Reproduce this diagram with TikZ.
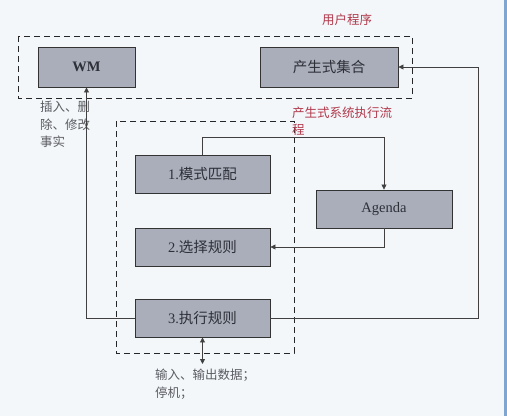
\documentclass[tikz,border=0pt]{standalone}
\usepackage{fontspec}
\setmainfont{Liberation Serif}
\newfontfamily\cjk{Noto Sans CJK SC}
\usetikzlibrary{arrows.meta}
\definecolor{bg}{HTML}{F4F7FA}
\definecolor{boxfill}{HTML}{A9AEBA}
\definecolor{redtxt}{HTML}{B0384A}
\definecolor{txt}{HTML}{2E3038}
\definecolor{gtxt}{HTML}{5A5C62}
\definecolor{edge}{HTML}{7FA6D0}
\tikzset{
  blk/.style={draw=black!80, line width=0.9pt, fill=boxfill, text=txt, font=\fontsize{14.5}{16}\selectfont},
  dashbox/.style={draw=black!85, line width=0.9pt, dash pattern=on 6pt off 4pt},
  conn/.style={draw=black!75, line width=0.8pt},
  arr/.style={conn, -{Triangle[length=5pt,width=5pt]}},
  redlbl/.style={text=redtxt, font=\cjk\fontsize{12.5}{17}\selectfont},
  grylbl/.style={text=gtxt, font=\cjk\fontsize{12.5}{17.5}\selectfont, align=left, inner sep=0pt},
}
\begin{document}
\begin{tikzpicture}[x=1pt,y=-1pt]
\fill[bg] (0,0) rectangle (507,416);
\fill[edge] (504,0) rectangle (507,416);
\useasboundingbox (0,0) rectangle (507,416);
% dashed containers
\draw[dashbox] (18,36) rectangle (412,98);
\draw[dashbox] (116,121) rectangle (294,353);
% nodes
\node[blk, minimum width=97pt, minimum height=40pt] (wm) at (86.5,67) {\bfseries WM};
\node[blk, minimum width=138pt, minimum height=40pt] (rules) at (329,67) {\cjk 产生式集合};
\node[blk, minimum width=135pt, minimum height=38pt] (m1) at (202.5,174) {1.{\cjk 模式匹配}};
\node[blk, minimum width=136pt, minimum height=38pt] (ag) at (384,209) {Agenda};
\node[blk, minimum width=135pt, minimum height=38pt] (m2) at (202.5,247) {2.{\cjk 选择规则}};
\node[blk, minimum width=135pt, minimum height=38pt] (m3) at (202.5,318) {3.{\cjk 执行规则}};
% labels
\node[redlbl, anchor=west, inner sep=0pt] (up) at (322,20) {用户程序};
\node[redlbl, anchor=north west, align=left, inner sep=0pt] (fl) at (292,107) {产生式系统执行流\\程};
\node[grylbl, anchor=north west] (ins) at (40,101) {插入、删\\除、修改\\事实};
\node[grylbl, anchor=north west] (io) at (155,369) {输入、输出数据；\\停机；};
% connectors
\coordinate (c1) at (202.5,137);
\coordinate (c2) at (384,137);
\draw[arr] (m1.north) -- (c1) -- (c2) -- (ag.north);
\draw[arr] (ag.south) |- (m2.east);
\coordinate (c3) at (86.5,318);
\draw[arr] (m3.west) -- (c3) -- (wm.south);
\coordinate (c4) at (478,318);
\coordinate (c5) at (478,67);
\draw[arr] (m3.east) -- (c4) -- (c5) -- (rules.east);
\coordinate (c6) at (202.5,364);
\draw[conn, {Triangle[length=5pt,width=5pt]}-{Triangle[length=5pt,width=5pt]}] (m3.south) -- (c6);
\end{tikzpicture}
\end{document}
